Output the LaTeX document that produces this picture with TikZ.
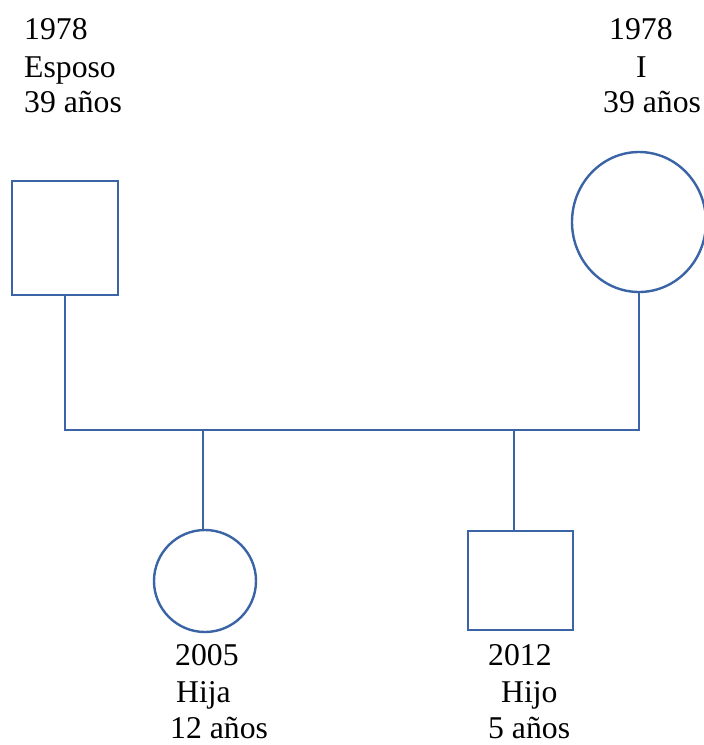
\documentclass[tikz,border=0pt]{standalone}
\usepackage{fontspec}
\setmainfont{Liberation Serif}
\usetikzlibrary{shapes.geometric}
\definecolor{lineblue}{HTML}{3B64A6}
\begin{document}
\begin{tikzpicture}[x=1pt,y=-1pt,
  shp/.style={draw=lineblue,line width=2.4pt,inner sep=0pt},
  sq/.style={shp,rectangle},
  circ/.style={shp,ellipse},
  conn/.style={draw=lineblue,line width=2.4pt},
  lbl/.style={anchor=base west,inner sep=0pt,font=\fontsize{31.7}{37}\selectfont}]
\useasboundingbox (0,0) rectangle (704,745);
% parents
\node[sq,minimum width=106pt,minimum height=114pt] (husb) at (65,238) {};
\node[circ,minimum width=134pt,minimum height=140pt] (wife) at (639,222) {};
% children
\node[circ,minimum width=102pt,minimum height=102pt] (dau) at (205,581) {};
\node[sq,minimum width=105pt,minimum height=99pt] (son) at (520.5,580.5) {};
% marriage line
\coordinate (ml) at (65,430);
\coordinate (mr) at (639,430);
\coordinate (j1) at (203,430);
\coordinate (j2) at (514,430);
\draw[conn] (husb.south) -- (ml) -- (mr) -- (wife.south);
\draw[conn] (j1) -- (j1 |- dau.north);
\draw[conn] (j2) -- (j2 |- son.north);
% labels
\node[lbl] (t1) at (24,39) {1978};
\node[lbl] (t2) at (24,77) {Esposo};
\node[lbl] (t3) at (24,112) {39 años};
\node[lbl] (r1) at (609,39) {1978};
\node[lbl] (r2) at (636,77) {I};
\node[lbl] (r3) at (603,112) {39 años};
\node[lbl] (d1) at (175,665) {2005};
\node[lbl] (d2) at (176,702) {Hija};
\node[lbl] (d3) at (170,738) {12 años};
\node[lbl] (s1) at (488,665) {2012};
\node[lbl] (s2) at (501,702) {Hijo};
\node[lbl] (s3) at (488,738) {5 años};
\end{tikzpicture}
\end{document}
